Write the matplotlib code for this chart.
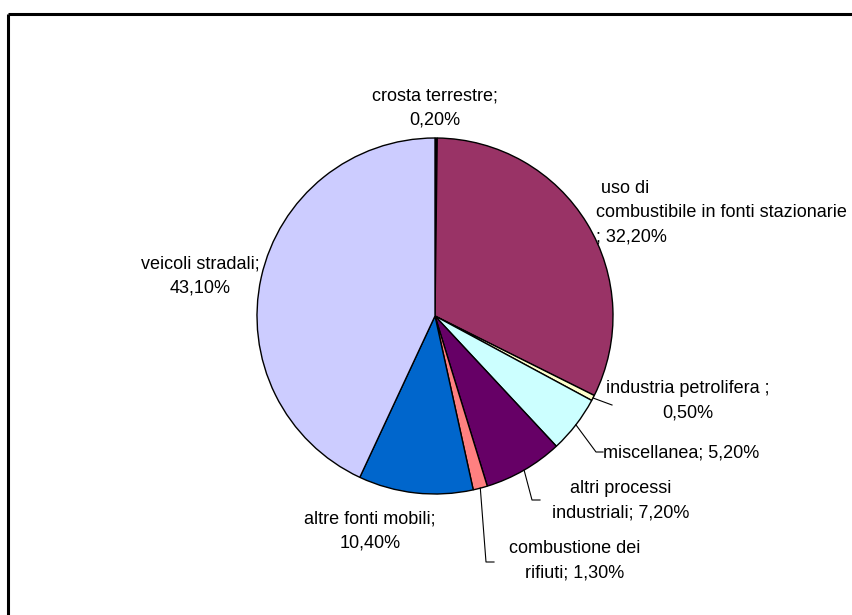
import numpy as np
import matplotlib
matplotlib.use("Agg")
import matplotlib.pyplot as plt

plt.rcParams['font.family'] = ['Liberation Sans', 'DejaVu Sans']

categories = [
    "crosta terrestre",
    "uso di combustibile in fonti stazionarie",
    "industria petrolifera",
    "miscellanea",
    "altri processi industriali",
    "combustione dei rifiuti",
    "altre fonti mobili",
    "veicoli stradali",
]
shares = [0.20, 32.20, 0.50, 5.20, 7.20, 1.30, 10.40, 43.10]
labels = [
    "crosta terrestre;\n0,20%",
    " uso di\ncombustibile in fonti stazionarie\n; 32,20%",
    "industria petrolifera ;\n0,50%",
    "miscellanea; 5,20%",
    "altri processi\nindustriali; 7,20%",
    "combustione dei\nrifiuti; 1,30%",
    "altre fonti mobili;\n10,40%",
    "veicoli stradali;\n43,10%",
]
colors = ["#000000", "#993366", "#FFFFCC", "#CCFFFF",
          "#660066", "#FF8080", "#0066CC", "#CCCCFF"]

W, H = 853, 615
fig = plt.figure(figsize=(W / 100, H / 100), dpi=100)
ax = fig.add_axes([0, 0, 1, 1])

cx, cy, r = 435, H - 316, 178
wedges, _ = ax.pie(shares, colors=colors, startangle=90, counterclock=False,
                   center=(cx, cy), radius=r, frame=True,
                   wedgeprops=dict(edgecolor='black', linewidth=1.0))
ax.set_xlim(0, W)
ax.set_ylim(0, H)
ax.set_aspect('equal')
ax.axis('off')

# chart frame (top and left edges)
ax.plot([8.5, W], [H - 13.5, H - 13.5], color='black', lw=2.2, solid_capstyle='butt')
ax.plot([8.5, 8.5], [H - 13.5, 0], color='black', lw=2.2, solid_capstyle='butt')

fs = 13
ls = 1.55


def edge_point(w, frac=1.0):
    a = np.deg2rad((w.theta1 + w.theta2) / 2)
    return cx + frac * r * np.cos(a), cy + frac * r * np.sin(a)


# label placements (x, y in pixels from top-left), alignment
place = {
    0: ((435, 108), 'center'),
    1: ((596, 213), 'left'),
    2: ((688, 401), 'center'),
    3: ((603, 453), 'left'),
    4: ((621, 501), 'center'),
    5: ((575, 561), 'center'),
    6: ((370, 531), 'center'),
    7: ((200, 276), 'center'),
}
for i, lab in enumerate(labels):
    (px, py), ha = place[i]
    ax.text(px, H - py, lab, ha=ha, va='center', fontsize=fs,
            linespacing=ls, multialignment='center' if ha == 'center' else 'left')

# leader lines
leaders = {
    2: [(612, 405)],
    3: [(596, 452), (603, 452)],
    4: [(532, 500), (540, 500)],
    5: [(486, 562), (494, 562)],
}
for i, pts in leaders.items():
    x0, y0 = edge_point(wedges[i])
    xs = [x0] + [p[0] for p in pts]
    ys = [y0] + [H - p[1] for p in pts]
    ax.plot(xs, ys, color='black', lw=0.8)

fig.savefig("out.png", dpi=100)
